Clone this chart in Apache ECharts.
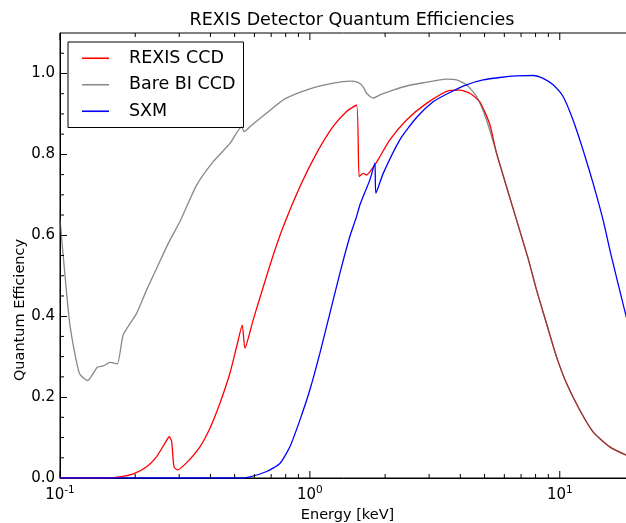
<!DOCTYPE html>
<html>
<head>
<meta charset="utf-8">
<script src="https://cdn.jsdelivr.net/npm/echarts@6/dist/echarts.min.js"></script>
<style>
html,body{margin:0;padding:0;background:#fff}
#chart{width:626px;height:523px}
</style>
</head>
<body>
<div id="chart"></div>
<script>
// energies in keV, quantum efficiency
var grayE  = [0.1, 0.1025, 0.1096, 0.1195, 0.1291, 0.141, 0.149, 0.1585, 0.1695, 0.1791, 0.2026, 0.2222, 0.2436, 0.2712, 0.302, 0.3522, 0.4104, 0.4786, 0.533, 0.546, 0.5754, 0.671, 0.794, 1.0, 1.239, 1.445, 1.556, 1.634, 1.686, 1.791, 1.905, 2.154, 2.437, 2.839, 3.523, 3.863, 4.236, 4.645, 5.093, 5.584, 6.123, 6.713, 7.468, 8.07, 8.85, 9.7, 10.64, 12.02, 13.59, 15.85, 18.37, 20];
var grayQE = [0.64, 0.564, 0.378, 0.259, 0.241, 0.274, 0.277, 0.286, 0.282, 0.354, 0.407, 0.465, 0.518, 0.58, 0.634, 0.724, 0.782, 0.827, 0.868, 0.856, 0.868, 0.902, 0.937, 0.962, 0.976, 0.981, 0.978, 0.967, 0.951, 0.939, 0.947, 0.959, 0.969, 0.977, 0.986, 0.984, 0.972, 0.943, 0.885, 0.803, 0.72, 0.638, 0.543, 0.465, 0.382, 0.3, 0.234, 0.168, 0.114, 0.077, 0.057, 0.049];

var redE  = [0.1, 0.13, 0.1445, 0.1738, 0.1965, 0.2223, 0.2437, 0.263, 0.2737, 0.2798, 0.2858, 0.2946, 0.3213, 0.3631, 0.3981, 0.4365, 0.4786, 0.5093, 0.5363, 0.5495, 0.5931, 0.627, 0.703, 0.782, 0.912, 1.064, 1.239, 1.402, 1.537, 1.575, 1.634, 1.686, 1.82, 1.905, 2.089, 2.437, 2.93, 3.631, 3.981, 4.365, 4.786, 5.248, 5.584, 6.123, 6.713, 7.468, 8.07, 8.85, 9.7, 10.64, 12.02, 13.59, 15.85, 18.37, 20];
var redQE = [0, 0, 0, 0.003, 0.01, 0.028, 0.053, 0.086, 0.102, 0.09, 0.028, 0.02, 0.038, 0.077, 0.123, 0.185, 0.259, 0.325, 0.378, 0.321, 0.391, 0.44, 0.539, 0.621, 0.72, 0.803, 0.869, 0.906, 0.922, 0.745, 0.753, 0.749, 0.774, 0.794, 0.836, 0.885, 0.926, 0.958, 0.959, 0.951, 0.93, 0.874, 0.803, 0.72, 0.638, 0.543, 0.465, 0.382, 0.3, 0.234, 0.168, 0.114, 0.077, 0.057, 0.049];

var blueE  = [0.1, 0.5248, 0.5754, 0.671, 0.7586, 0.8318, 0.912, 1.0, 1.096, 1.202, 1.318, 1.445, 1.537, 1.585, 1.738, 1.82, 1.837, 1.965, 2.291, 2.672, 3.113, 3.631, 4.236, 4.935, 5.754, 6.713, 7.82, 8.575, 9.402, 10.31, 11.3, 12.39, 13.59, 14.9, 16.1, 18.37, 20];
var blueQE = [0, 0, 0.003, 0.016, 0.036, 0.077, 0.143, 0.218, 0.308, 0.407, 0.506, 0.597, 0.646, 0.675, 0.737, 0.778, 0.704, 0.753, 0.836, 0.891, 0.93, 0.953, 0.972, 0.984, 0.99, 0.994, 0.995, 0.988, 0.972, 0.943, 0.885, 0.811, 0.729, 0.638, 0.547, 0.403, 0.31];

var names = ['REXIS CCD', 'Bare BI CCD', 'SXM'];
var xMajor = [0.1, 1, 10];
var xMinor = [0.2, 0.3, 0.4, 0.5, 0.6, 0.7, 0.8, 0.9, 2, 3, 4, 5, 6, 7, 8, 9, 20];
var yMinor = [0.05, 0.1, 0.15, 0.25, 0.3, 0.35, 0.45, 0.5, 0.55, 0.65, 0.7, 0.75, 0.85, 0.9, 0.95, 1.05];

var FONT = '"DejaVu Sans", sans-serif';
var X0 = 0.1, X1 = 20, Y0 = 0, Y1 = 1.1;

function zip(a, b) {
  var out = [];
  for (var i = 0; i < a.length; i++) out.push([a[i], b[i]]);
  return out;
}

// ticks on bottom and top edges, pointing inwards
function xTickSeries(vals, len) {
  return {
    type: 'custom', silent: true, clip: false, z: 5,
    data: vals.map(function (v) { return [v, Y0]; }),
    renderItem: function (params, api) {
      var b = api.coord([api.value(0), Y0]);
      var t = api.coord([api.value(0), Y1]);
      var st = { stroke: '#000', lineWidth: 1 };
      return { type: 'group', children: [
        { type: 'line', shape: { x1: b[0], y1: b[1], x2: b[0], y2: b[1] - len }, style: st },
        { type: 'line', shape: { x1: t[0], y1: t[1], x2: t[0], y2: t[1] + len }, style: st }
      ]};
    }
  };
}

var myChart = echarts.init(document.getElementById('chart'));
var option = {
  animation: false,
  textStyle: { fontFamily: FONT },
  graphic: [
    { type: 'text', x: 352, y: 20, style: { text: 'REXIS Detector Quantum Efficiencies', font: '17.5px ' + FONT, fill: '#000', align: 'center', verticalAlign: 'middle' } },
    { type: 'text', x: 20, y: 310, rotation: Math.PI / 2, style: { text: 'Quantum Efficiency', font: '14.5px ' + FONT, fill: '#000', align: 'center', verticalAlign: 'middle' } }
  ],
  legend: {
    data: names,
    orient: 'vertical',
    left: 68, top: 42,
    padding: [6, 8, 6, 14],
    icon: 'rect',
    itemWidth: 27, itemHeight: 1.6, itemGap: 6,
    borderColor: '#000', borderWidth: 1,
    textStyle: { fontSize: 17.5, lineHeight: 20.5, color: '#000', fontFamily: FONT, padding: [0, 0, 0, 15] }
  },
  grid: { left: 60, right: -9, top: 33, bottom: 45, outerBoundsMode: 'none', containLabel: false, show: true, borderColor: '#000', borderWidth: 1, backgroundColor: 'transparent' },
  xAxis: {
    type: 'log', logBase: 10, min: X0, max: X1,
    name: 'Energy [keV]', nameLocation: 'middle', nameGap: 30,
    nameTextStyle: { fontSize: 14.5, color: '#000', fontFamily: FONT },
    axisLine: { lineStyle: { color: '#000' } },
    axisTick: { show: false },
    splitLine: { show: false },
    axisLabel: {
      color: '#000', margin: 7,
      formatter: function (v) {
        var e = Math.round(Math.log10(v));
        if (Math.abs(Math.log10(v) - e) > 1e-6) return '';
        return '{b|10}{s|' + e + '}';
      },
      rich: {
        b: { fontSize: 15, lineHeight: 20, fontFamily: FONT, color: '#000' },
        s: { fontSize: 10.5, lineHeight: 11, verticalAlign: 'top', fontFamily: FONT, color: '#000' }
      }
    }
  },
  yAxis: {
    type: 'value', min: Y0, max: Y1, interval: 0.2,
    axisLine: { show: true, lineStyle: { color: '#000' } },
    axisTick: { show: true, inside: true, length: 7, lineStyle: { color: '#000' } },
    splitLine: { show: false },
    axisLabel: {
      color: '#000', fontSize: 15, margin: 5, showMaxLabel: false,
      formatter: function (v) { return v > 1.05 ? '' : v.toFixed(1); }
    }
  },
  series: [
    { name: names[0], type: 'line', data: zip(redE, redQE), symbol: 'none', smooth: 0.2, z: 2,
      lineStyle: { color: '#ff0000', width: 1.3 }, itemStyle: { color: '#ff0000' } },
    { name: names[1], type: 'line', data: zip(grayE, grayQE), symbol: 'none', smooth: 0.2, z: 3,
      lineStyle: { color: '#555555', width: 1.3, opacity: 0.7 }, itemStyle: { color: '#8c8c8c' } },
    { name: names[2], type: 'line', data: zip(blueE, blueQE), symbol: 'none', smooth: 0.2, z: 4,
      lineStyle: { color: '#0000ff', width: 1.3 }, itemStyle: { color: '#0000ff' } },
    xTickSeries(xMajor, 7),
    xTickSeries(xMinor, 4),
    {
      type: 'custom', silent: true, clip: false, z: 5,
      data: yMinor.map(function (v) { return [X0, v]; }),
      renderItem: function (params, api) {
        var p = api.coord([X0, api.value(1)]);
        return { type: 'line', shape: { x1: p[0], y1: p[1], x2: p[0] + 4, y2: p[1] }, style: { stroke: '#000', lineWidth: 1 } };
      }
    }
  ]
};
myChart.setOption(option);
window.addEventListener('resize', function () { myChart.resize(); });
</script>
</body>
</html>
